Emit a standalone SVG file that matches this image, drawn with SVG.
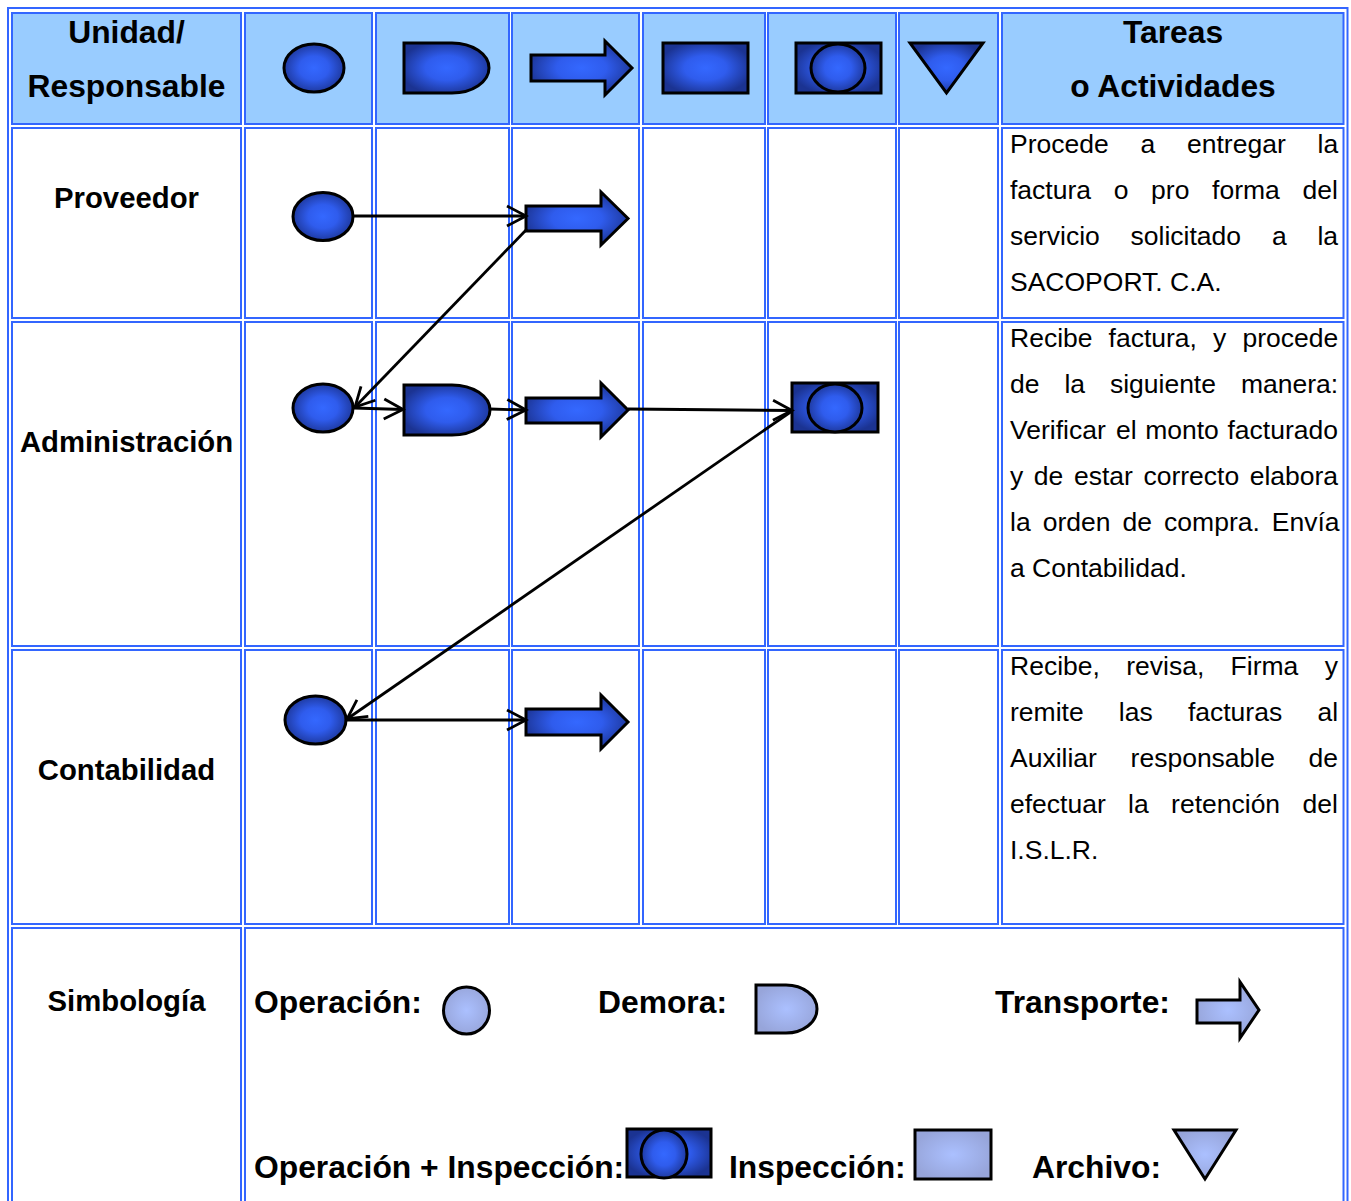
<svg xmlns="http://www.w3.org/2000/svg" width="1351" height="1201" viewBox="0 0 1351 1201">
  <style>
    .cell { fill: #ffffff; stroke: #3366ff; stroke-width: 2; }
    .hcell { fill: #99ccff; stroke: #3366ff; stroke-width: 2; }
    .outer { fill: none; stroke: #3366ff; stroke-width: 2; }
    .sym { fill: url(#gDark); stroke: #000000; stroke-width: 3; stroke-linejoin: miter; }
    .symL { fill: url(#gLight); stroke: #000000; stroke-width: 3; }
    .conn { fill: none; stroke: #000000; stroke-width: 2.8; marker-end: url(#open); }
    .hd { font-family: "Liberation Sans", Arial, sans-serif; font-weight: bold; font-size: 31.8px; text-anchor: middle; fill: #000000; }
    .lbl { font-family: "Liberation Sans", Arial, sans-serif; font-weight: bold; font-size: 29.3px; text-anchor: middle; fill: #000000; }
    .leg { font-family: "Liberation Sans", Arial, sans-serif; font-weight: bold; font-size: 31.8px; fill: #000000; }
    .body { font-family: "Liberation Sans", Arial, sans-serif; font-size: 26.5px; fill: #000000; }
  </style>
  <defs>
    <radialGradient id="gDark" cx="0.5" cy="0.5" r="0.55">
      <stop offset="0" stop-color="#3468ff"/>
      <stop offset="0.45" stop-color="#2f5ced"/>
      <stop offset="1" stop-color="#1b3392"/>
    </radialGradient>
    <radialGradient id="gLight" cx="0.5" cy="0.5" r="0.55">
      <stop offset="0" stop-color="#abc0ff"/>
      <stop offset="1" stop-color="#97a5da"/>
    </radialGradient>
    <marker id="open" markerUnits="userSpaceOnUse" viewBox="0 0 24 24" markerWidth="24" markerHeight="24" refX="21" refY="12" orient="auto">
      <path d="M2,2 L21,12 L2,22" fill="none" stroke="#000000" stroke-width="2.8"/>
    </marker>
  </defs>

  <!-- table grid -->
  <g id="grid">
    <rect class="outer" x="8" y="8" width="1339.5" height="1220"/>
    <!-- header row -->
    <rect class="hcell" x="12" y="13" width="229" height="111"/>
    <rect class="hcell" x="245" y="13" width="127" height="111"/>
    <rect class="hcell" x="376" y="13" width="133" height="111"/>
    <rect class="hcell" x="512" y="13" width="127" height="111"/>
    <rect class="hcell" x="643" y="13" width="122" height="111"/>
    <rect class="hcell" x="768" y="13" width="128" height="111"/>
    <rect class="hcell" x="899" y="13" width="99" height="111"/>
    <rect class="hcell" x="1002" y="13" width="341.5" height="111"/>
    <!-- Proveedor row -->
    <rect class="cell" x="12" y="128" width="229" height="190"/>
    <rect class="cell" x="245" y="128" width="127" height="190"/>
    <rect class="cell" x="376" y="128" width="133" height="190"/>
    <rect class="cell" x="512" y="128" width="127" height="190"/>
    <rect class="cell" x="643" y="128" width="122" height="190"/>
    <rect class="cell" x="768" y="128" width="128" height="190"/>
    <rect class="cell" x="899" y="128" width="99" height="190"/>
    <rect class="cell" x="1002" y="128" width="341.5" height="190"/>
    <!-- Administración row -->
    <rect class="cell" x="12" y="322" width="229" height="324"/>
    <rect class="cell" x="245" y="322" width="127" height="324"/>
    <rect class="cell" x="376" y="322" width="133" height="324"/>
    <rect class="cell" x="512" y="322" width="127" height="324"/>
    <rect class="cell" x="643" y="322" width="122" height="324"/>
    <rect class="cell" x="768" y="322" width="128" height="324"/>
    <rect class="cell" x="899" y="322" width="99" height="324"/>
    <rect class="cell" x="1002" y="322" width="341.5" height="324"/>
    <!-- Contabilidad row -->
    <rect class="cell" x="12" y="650" width="229" height="274"/>
    <rect class="cell" x="245" y="650" width="127" height="274"/>
    <rect class="cell" x="376" y="650" width="133" height="274"/>
    <rect class="cell" x="512" y="650" width="127" height="274"/>
    <rect class="cell" x="643" y="650" width="122" height="274"/>
    <rect class="cell" x="768" y="650" width="128" height="274"/>
    <rect class="cell" x="899" y="650" width="99" height="274"/>
    <rect class="cell" x="1002" y="650" width="341.5" height="274"/>
    <!-- legend row -->
    <rect class="cell" x="12" y="928" width="229" height="290"/>
    <rect class="cell" x="245" y="928" width="1098.5" height="290"/>
  </g>

  <!-- header texts and symbols -->
  <g id="header">
    <text class="hd" x="126.5" y="43">Unidad/</text>
    <text class="hd" x="126.5" y="97">Responsable</text>
    <text class="hd" x="1173" y="43">Tareas</text>
    <text class="hd" x="1173" y="97">o Actividades</text>
    <ellipse class="sym" cx="314" cy="68" rx="30" ry="24"/>
    <path class="sym" d="M404,43 H452 A37,25 0 0 1 452,93 H404 Z"/>
    <path class="sym" d="M531,55 H605 V41 L632,68 L605,95 V81 H531 Z"/>
    <rect class="sym" x="663" y="43" width="85" height="50"/>
    <g>
      <rect class="sym" x="796" y="43" width="85" height="50"/>
      <ellipse class="sym" cx="838" cy="68" rx="27" ry="24"/>
    </g>
    <path class="sym" d="M910,43 H983 L946.5,93 Z"/>
  </g>

  <!-- unit labels -->
  <g id="labels">
    <text class="lbl" x="126.5" y="208">Proveedor</text>
    <text class="lbl" x="126.5" y="452">Administración</text>
    <text class="lbl" x="126.5" y="780">Contabilidad</text>
    <text class="lbl" x="126.5" y="1011">Simbología</text>
  </g>

  <!-- flow nodes -->
  <g id="prov-op"><ellipse class="sym" cx="323" cy="216.5" rx="30" ry="24"/></g>
  <g id="prov-tr"><path class="sym" d="M526,206 H601 V192 L628,218.5 L601,245 V231 H526 Z"/></g>
  <g id="adm-op"><ellipse class="sym" cx="323" cy="408" rx="30" ry="24"/></g>
  <g id="adm-delay"><path class="sym" d="M404,385 H452 A38,25 0 0 1 452,435 H404 Z"/></g>
  <g id="adm-tr"><path class="sym" d="M526,398 H601 V383 L628,410 L601,437 V423 H526 Z"/></g>
  <g id="adm-opinsp">
    <rect class="sym" x="792" y="383" width="86" height="49"/>
    <ellipse class="sym" cx="835" cy="408" rx="27" ry="24"/>
  </g>
  <g id="cont-op"><ellipse class="sym" cx="315.5" cy="720" rx="30.5" ry="24"/></g>
  <g id="cont-tr"><path class="sym" d="M526,709 H601 V695 L628,722 L601,749 V735 H526 Z"/></g>

  <!-- connectors -->
  <g id="connectors">
    <line class="conn" x1="354" y1="216" x2="526" y2="216"/>
    <line class="conn" x1="527" y1="229" x2="355" y2="407"/>
    <line class="conn" x1="354" y1="408" x2="403" y2="409.5"/>
    <line class="conn" x1="490" y1="409" x2="526" y2="410"/>
    <line class="conn" x1="628" y1="409" x2="792" y2="410.5"/>
    <line class="conn" x1="792" y1="411" x2="347" y2="719"/>
    <line class="conn" x1="347" y1="720" x2="526" y2="720"/>
  </g>

  <!-- task descriptions -->
  <g id="tasks" class="body">
    <text class="body" y="153"><tspan x="1010">Procede</tspan><tspan x="1140.5">a</tspan><tspan x="1187">entregar</tspan><tspan x="1317.5">la</tspan></text>
    <text class="body" y="199"><tspan x="1010">factura</tspan><tspan x="1113.7">o</tspan><tspan x="1151.1">pro</tspan><tspan x="1212.1">forma</tspan><tspan x="1302.5">del</tspan></text>
    <text class="body" y="245"><tspan x="1010">servicio</tspan><tspan x="1130.6">solicitado</tspan><tspan x="1271.9">a</tspan><tspan x="1317.4">la</tspan></text>
    <text class="body" x="1010" y="291">SACOPORT. C.A.</text>

    <text class="body" y="347"><tspan x="1010">Recibe</tspan><tspan x="1108.6">factura,</tspan><tspan x="1213.1">y</tspan><tspan x="1242.4">procede</tspan></text>
    <text class="body" y="393"><tspan x="1010">de</tspan><tspan x="1064.4">la</tspan><tspan x="1109.9">siguiente</tspan><tspan x="1240.9">manera:</tspan></text>
    <text class="body" y="439"><tspan x="1010">Verificar</tspan><tspan x="1115.9">el</tspan><tspan x="1145.2">monto</tspan><tspan x="1227.5">facturado</tspan></text>
    <text class="body" y="485"><tspan x="1010">y</tspan><tspan x="1033.8">de</tspan><tspan x="1073.9">estar</tspan><tspan x="1143.4">correcto</tspan><tspan x="1249.7">elabora</tspan></text>
    <text class="body" y="531"><tspan x="1010">la</tspan><tspan x="1042.7">orden</tspan><tspan x="1122.5">de</tspan><tspan x="1164.1">compra.</tspan><tspan x="1271.8">Envía</tspan></text>
    <text class="body" x="1010" y="577">a Contabilidad.</text>

    <text class="body" y="675"><tspan x="1010">Recibe,</tspan><tspan x="1126.2">revisa,</tspan><tspan x="1230.6">Firma</tspan><tspan x="1324.7">y</tspan></text>
    <text class="body" y="721"><tspan x="1010">remite</tspan><tspan x="1118.8">las</tspan><tspan x="1187.9">facturas</tspan><tspan x="1317.4">al</tspan></text>
    <text class="body" y="767"><tspan x="1010">Auxiliar</tspan><tspan x="1130.6">responsable</tspan><tspan x="1308.6">de</tspan></text>
    <text class="body" y="813"><tspan x="1010">efectuar</tspan><tspan x="1128.1">la</tspan><tspan x="1171.1">retención</tspan><tspan x="1302.5">del</tspan></text>
    <text class="body" x="1010" y="859">I.S.L.R.</text>
  </g>

  <!-- symbol legend -->
  <g id="legend">
    <text class="leg" x="254" y="1013">Operación:</text>
    <ellipse class="symL" cx="466.5" cy="1010.5" rx="23" ry="23.5"/>
    <text class="leg" x="598" y="1013">Demora:</text>
    <path class="symL" d="M756,985 H786 A31,24 0 0 1 786,1033 H756 Z"/>
    <text class="leg" x="995" y="1013">Transporte:</text>
    <path class="symL" d="M1197,1000 H1240 V982 L1259,1010 L1240,1038 V1023 H1197 Z"/>
    <text class="leg" x="254" y="1178">Operación + Inspección:</text>
    <rect class="sym" x="627" y="1129" width="84" height="48"/>
    <ellipse class="sym" cx="664" cy="1154" rx="23" ry="24"/>
    <text class="leg" x="729" y="1178">Inspección:</text>
    <rect class="symL" x="915" y="1130" width="76" height="49"/>
    <text class="leg" x="1032" y="1178">Archivo:</text>
    <path class="symL" d="M1174,1130 H1236 L1205,1179 Z"/>
  </g>
</svg>
